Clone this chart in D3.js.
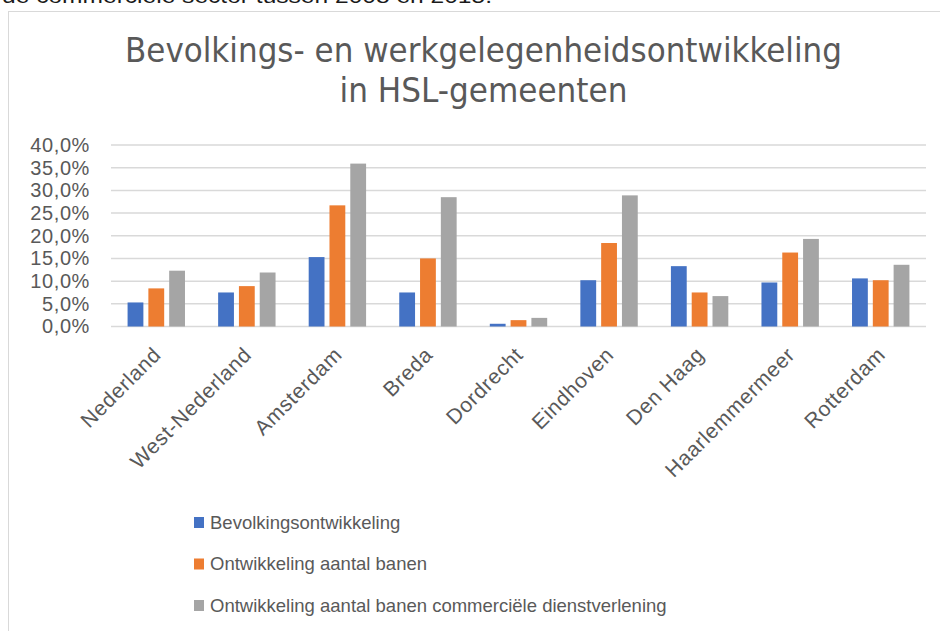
<!DOCTYPE html>
<html><head><meta charset="utf-8">
<script src="https://cdn.jsdelivr.net/npm/d3@7"></script>
<style>
html,body{margin:0;padding:0;background:#fff;}
svg{display:block;}
text{font-family:"Liberation Sans",Arial,sans-serif;}
</style></head>
<body>
<svg id="chart" width="940" height="631"></svg>
<script>
const categories = ["Nederland","West-Nederland","Amsterdam","Breda","Dordrecht","Eindhoven","Den Haag","Haarlemmermeer","Rotterdam"];
const seriesNames = ["Bevolkingsontwikkeling","Ontwikkeling aantal banen","Ontwikkeling aantal banen commerciële dienstverlening"];
const bevolking = [5.3, 7.5, 15.3, 7.5, 0.6, 10.2, 13.3, 9.7, 10.6];
const banen = [8.4, 8.9, 26.7, 15.0, 1.4, 18.4, 7.5, 16.3, 10.2];
const banenCommercieel = [12.3, 11.9, 35.9, 28.5, 1.9, 28.9, 6.7, 19.3, 13.6];
const yTicks = [0, 5, 10, 15, 20, 25, 30, 35, 40];
const colors = ["#4472C4", "#ED7D31", "#A5A5A5"];
const titleLines = ["Bevolkings- en werkgelegenheidsontwikkeling", "in HSL-gemeenten"];
const introText = "de commerciële sector tussen 2008 en 2015.";

const seriesValues = [bevolking, banen, banenCommercieel];
const svg = d3.select("#chart");

// cut-off intro text at top
svg.append("text").attr("x", 2).attr("y", 3)
  .attr("font-size", 20).attr("fill", "#1a1a1a")
  .attr("textLength", 490).attr("lengthAdjust", "spacingAndGlyphs")
  .text(introText);

// chart frame
svg.append("rect").attr("x", 8.5).attr("y", 11.5).attr("width", 1000).attr("height", 700)
  .attr("fill", "#fff").attr("stroke", "#d9d9d9").attr("stroke-width", 1);

// title
const titleFont = '"Liberation Sans Narrow","DejaVu Sans Condensed",Arial,sans-serif';
svg.append("text").attr("x", 483.5).attr("y", 62).attr("text-anchor", "middle")
  .attr("font-size", 33).attr("fill", "#595959").style("font-family", titleFont)
  .attr("textLength", 717).attr("lengthAdjust", "spacingAndGlyphs")
  .text(titleLines[0]);
svg.append("text").attr("x", 483.5).attr("y", 102).attr("text-anchor", "middle")
  .attr("font-size", 33).attr("fill", "#595959").style("font-family", titleFont)
  .attr("textLength", 288).attr("lengthAdjust", "spacingAndGlyphs")
  .text(titleLines[1]);

// scales
const x0 = d3.scaleBand().domain(categories).range([111, 926]).padding(0);
const x1 = d3.scaleBand().domain([0,1,2]).range([0, 57.4]).paddingInner(0.24).paddingOuter(0);
const y = d3.scaleLinear().domain([0, 40]).range([326.5, 145]);

// gridlines
svg.append("g").selectAll("line").data(yTicks).join("line")
  .attr("x1", 111).attr("x2", 926)
  .attr("y1", d => y(d)).attr("y2", d => y(d))
  .attr("stroke", "#d9d9d9").attr("stroke-width", 1.5);

// y axis labels via d3 axis
const yAxis = d3.axisLeft(y).tickValues(yTicks).tickSize(0).tickPadding(0)
  .tickFormat(d => d.toFixed(1).replace(".", ",") + "%");
const yg = svg.append("g").attr("transform", "translate(90,0)").call(yAxis);
yg.select(".domain").remove();
yg.selectAll("text").attr("font-size", 20).attr("fill", "#595959")
  .attr("font-family", '"Liberation Sans",Arial,sans-serif').style("letter-spacing", "0.6px");

// bars
const groups = svg.append("g").selectAll("g").data(categories).join("g")
  .attr("transform", d => `translate(${x0(d) + x0.bandwidth()/2 - 28.7},0)`);
groups.selectAll("rect").data((d, i) => seriesValues.map((s, k) => ({k, v: s[i]}))).join("rect")
  .attr("x", d => x1(d.k)).attr("width", x1.bandwidth())
  .attr("y", d => y(d.v)).attr("height", d => y(0) - y(d.v))
  .attr("fill", d => colors[d.k]);

// x axis labels
const xAxis = d3.axisBottom(x0).tickSize(0).tickPadding(0);
const xg = svg.append("g").attr("transform", "translate(0,0)").call(xAxis);
xg.select(".domain").remove();
xg.selectAll(".tick").attr("transform", d => `translate(${x0(d) + x0.bandwidth()/2 + 6},356)`);
xg.selectAll("text").attr("font-size", 21).attr("fill", "#595959")
  .attr("font-family", '"Liberation Sans",Arial,sans-serif')
  .style("letter-spacing", "0.7px")
  .attr("text-anchor", "end").attr("dy", 0).attr("y", 0)
  .attr("transform", "rotate(-45)");

// legend
const legend = svg.append("g").selectAll("g").data(seriesNames).join("g")
  .attr("transform", (d, i) => `translate(194,${517 + i * 41.5})`);
legend.append("rect").attr("width", 10).attr("height", 11).attr("fill", (d, i) => colors[i]);
legend.append("text").attr("x", 16).attr("y", 11.5)
  .attr("font-size", 18.5).attr("fill", "#595959").text(d => d);
</script>
</body></html>
